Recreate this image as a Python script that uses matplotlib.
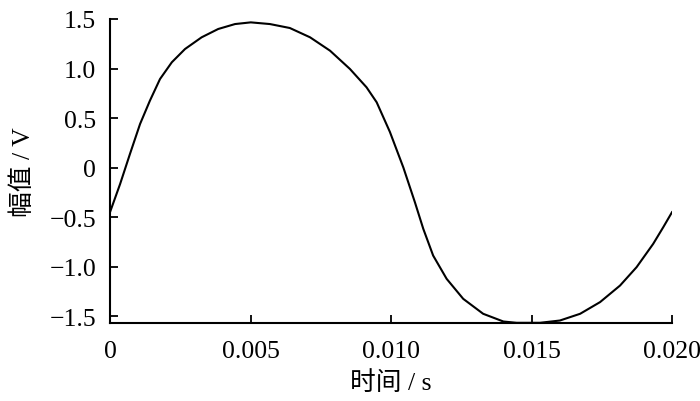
import matplotlib
matplotlib.use("Agg")
import matplotlib.pyplot as plt

# waveform (time in s, amplitude in V)
t = [0.0, 0.00036, 0.00071, 0.00107, 0.00142, 0.00178, 0.0022, 0.00267,
     0.00326, 0.00385, 0.00445, 0.00501, 0.00569, 0.0064, 0.00712, 0.00783,
     0.00854, 0.00913, 0.00949, 0.00996, 0.01044, 0.01085, 0.01115, 0.0115,
     0.01198, 0.01257, 0.01328, 0.014, 0.01447, 0.0153, 0.01601, 0.01673,
     0.01744, 0.01815, 0.01874, 0.01933, 0.01969, 0.0200]
v = [-0.451, -0.166, 0.137, 0.44, 0.675, 0.894, 1.063, 1.197,
     1.315, 1.399, 1.449, 1.466, 1.449, 1.409, 1.315, 1.18,
     0.995, 0.81, 0.659, 0.36, 0.0, -0.35, -0.62, -0.889,
     -1.124, -1.326, -1.477, -1.555, -1.568, -1.568, -1.545, -1.477,
     -1.359, -1.192, -1.006, -0.771, -0.602, -0.451]

xticks = [0, 0.005, 0.010, 0.015, 0.020]
xtick_labels = ["0", "0.005", "0.010", "0.015", "0.020"]
yticks = [1.5, 1.0, 0.5, 0, -0.5, -1.0, -1.5]
ytick_labels = ["1.5", "1.0", "0.5", "0", "\u22120.5", "\u22121.0", "\u22121.5"]

plt.rcParams["font.family"] = ["Liberation Serif", "Noto Sans CJK SC"]
plt.rcParams["font.size"] = 18.5

fig = plt.figure(figsize=(7.0, 4.02), dpi=100)
ax = fig.add_axes([110 / 700, 1 - 324 / 402, 562 / 700, 304 / 402])

ax.plot(t, v, color="black", lw=1.5)

ax.set_xlim(0, 0.020)
ax.set_ylim(-1.57, 1.5)
ax.set_xticks(xticks)
ax.set_xticklabels(xtick_labels)
ax.set_yticks(yticks)
ax.set_yticklabels(ytick_labels)
ax.tick_params(direction="in", length=6, width=1.3, pad=10, labelsize=18.5)
ax.tick_params(axis="x", pad=12)
for s in ("top", "right"):
    ax.spines[s].set_visible(False)
for s in ("left", "bottom"):
    ax.spines[s].set_linewidth(1.5)

ax.set_xlabel("时间 / s", fontsize=18.5, labelpad=6)
ax.set_ylabel("幅值 / V", fontsize=18.5, labelpad=10)

fig.savefig("out.png", dpi=100)
